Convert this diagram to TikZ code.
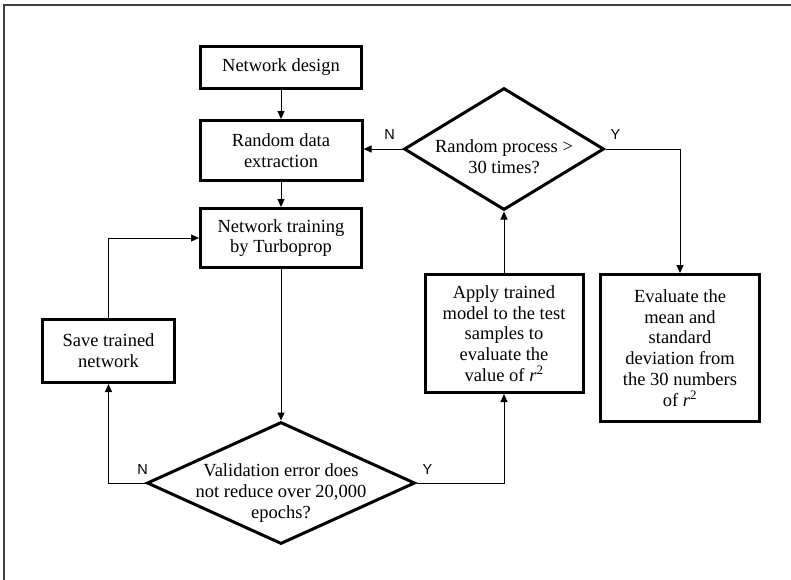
\documentclass[tikz,border=0pt]{standalone}
\usepackage{fontspec}
\setmainfont{Liberation Serif}
\newfontfamily\labfont{Liberation Sans}
\usetikzlibrary{shapes,arrows}
\usetikzlibrary{arrows.meta}

\tikzset{
  block/.style={shape=rectangle, draw, line width=3pt, align=center, inner sep=0pt, font=\fontsize{18.5}{20.7}\selectfont},
  decision/.style={shape=diamond, draw, line width=3pt, inner sep=0pt},
  dtext/.style={align=center, font=\fontsize{18.5}{20.7}\selectfont},
  conn/.style={line width=1pt, -{Triangle[length=8pt,width=7pt]}},
  yn/.style={font=\labfont\fontsize{14.5}{16}\selectfont},
}

\begin{document}
\begin{tikzpicture}[x=1pt, y=-1pt]
\useasboundingbox (0,0) rectangle (791,579);
\draw [line width=1.5pt, black!75] (4,5) rectangle (900,700);

\node (design) at (281,67.5) [block, minimum width=161pt, minimum height=42pt] {Network design};
\node (extract) at (281,150.5) [block, minimum width=162pt, minimum height=60pt] {Random data\\extraction};
\node (train) at (281,238) [block, minimum width=161pt, minimum height=59pt] {Network training\\by Turboprop};
\node (save) at (108.5,351) [block, minimum width=132pt, minimum height=63pt] {Save trained\\network};
\node (apply) at (504,333.5) [block, minimum width=158pt, minimum height=118pt] {Apply trained\\model to the test\\samples to\\evaluate the\\value of \textit{r}\textsuperscript{2}};
\node (eval) at (680,348) [block, minimum width=159pt, minimum height=147pt] {Evaluate the\\mean and\\standard\\deviation from\\the 30 numbers\\of \textit{r}\textsuperscript{2}};

\node (random) at (504,149) [decision, minimum width=200pt, minimum height=122pt] {};
\node (randomtext) at ([yshift=-8pt]random.center) [dtext] {Random process >\\30 times?};
\node (valid) at (281,483) [decision, minimum width=268pt, minimum height=122pt] {};
\node (validtext) at ([yshift=-10pt]valid.center) [dtext] {Validation error does\\not reduce over 20,000\\epochs?};

\draw [conn] (design) -- (extract);
\draw [conn] (extract) -- (train);
\draw [conn] (train) -- (valid);
\draw [conn] (valid.west) -| (save.south);
\draw [conn] (save.north) |- (train.west);
\draw [conn] (valid.east) -| (apply.south);
\draw [conn] (apply) -- (random);
\draw [conn] (random.west) -- (random.west -| extract.east);
\draw [conn] (random.east) -| (eval.north);

\node (validno) at ([xshift=-3pt,yshift=13pt]valid.west) [yn] {N};
\node (validyes) at ([xshift=11pt,yshift=13pt]valid.east) [yn] {Y};
\node (randomno) at ([xshift=-13pt,yshift=14pt]random.west) [yn] {N};
\node (randomyes) at ([xshift=10pt,yshift=14pt]random.east) [yn] {Y};
\end{tikzpicture}
\end{document}
